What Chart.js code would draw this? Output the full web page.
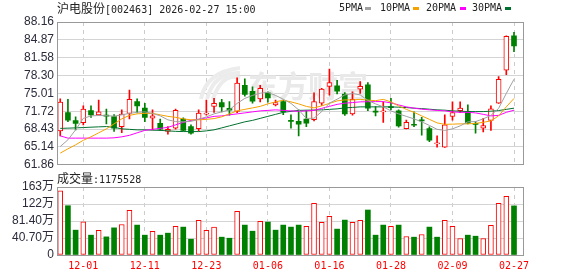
<!DOCTYPE html>
<html>
<head>
<meta charset="utf-8">
<title>沪电股份[002463] 日K</title>
<script src="https://cdn.jsdelivr.net/npm/chart.js@4.4.1/dist/chart.umd.min.js"></script>
<style>
  body { margin: 0; background: #fff; }
  #wrap { position: relative; width: 578px; height: 276px; overflow: hidden; }
  canvas { position: absolute; left: 0; }
  #priceCv { top: 0; }
  #volCv { top: 168px; }
  .txt { position: absolute; white-space: nowrap; line-height: 16px; color: #222; }
  .cjk { font-family: "Noto Sans CJK SC"; font-size: 12px; }
  .mono { font-family: "DejaVu Sans Mono"; font-size: 10px; }
  .mk { position: absolute; top: 7px; width: 6px; height: 3px; }
</style>
</head>
<body>
<div id="wrap">
  <canvas id="priceCv" width="578" height="175"></canvas>
  <canvas id="volCv" width="578" height="108"></canvas>

  <div class="txt" style="left:57px;top:0"><span class="cjk">沪电股份</span><span class="mono">[002463] 2026-02-27 15:00</span></div>

  <div class="txt mono" style="left:339px;top:0">5PMA</div>
  <div class="mk" style="left:365px;background:#a0a0a0"></div>
  <div class="txt mono" style="left:380px;top:0">10PMA</div>
  <div class="mk" style="left:413px;background:#f5a100"></div>
  <div class="txt mono" style="left:426px;top:0">20PMA</div>
  <div class="mk" style="left:460px;background:#ff00ff"></div>
  <div class="txt mono" style="left:472px;top:0">30PMA</div>
  <div class="mk" style="left:505px;background:#00702f"></div>

  <div class="txt" style="left:57px;top:170px"><span class="cjk">成交量</span><span class="mono">:1175528</span></div>
</div>

<script>
// trading days shown on the chart
const dates = [
  "11-26", "11-27", "11-28", "12-01", "12-02", "12-03", "12-04", "12-05", "12-08", "12-09",
  "12-10", "12-11", "12-12", "12-15", "12-16", "12-17", "12-18", "12-19", "12-22", "12-23",
  "12-24", "12-25", "12-26", "12-29", "12-30", "12-31", "01-05", "01-06", "01-07", "01-08",
  "01-09", "01-12", "01-13", "01-14", "01-15", "01-16", "01-19", "01-20", "01-21", "01-22",
  "01-23", "01-26", "01-27", "01-28", "01-29", "01-30", "02-02", "02-03", "02-04", "02-05",
  "02-06", "02-09", "02-10", "02-11", "02-12", "02-13", "02-24", "02-25", "02-26", "02-27"
];
const dateTickIdx = [3, 11, 19, 27, 35, 43, 51, 59];

const open = [
  68.1, 71.5, 70.0, 69.6, 71.85, 71.05, 71.0, 70.75, 68.9, 71.3,
  73.5, 72.3, 70.45, 69.5, 68.0, 68.6, 70.3, 68.9, 68.5, 71.2,
  72.6, 73.3, 72.25, 71.7, 76.5, 75.4, 74.0, 75.1, 72.9, 73.5,
  70.0, 69.85, 70.27, 70.15, 73.2, 76.3, 76.4, 74.9, 71.25, 75.8,
  76.6, 71.7, 71.6, 72.6, 71.8, 68.5, 69.3, 70.0, 68.55, 65.7,
  65.1, 70.75, 71.85, 71.7, 69.4, 68.6, 70.05, 73.2, 79.3, 85.6
];
const high = [
  74.0, 73.9, 70.7, 72.7, 72.7, 73.8, 72.1, 71.1, 72.0, 75.6,
  74.0, 73.2, 72.0, 70.3, 68.9, 72.1, 70.5, 69.2, 72.0, 73.8,
  74.1, 73.9, 73.5, 77.9, 77.7, 76.2, 76.5, 75.3, 73.8, 73.8,
  71.05, 72.0, 71.85, 75.1, 75.95, 79.5, 77.4, 75.15, 75.3, 77.2,
  77.0, 72.6, 73.45, 74.1, 72.0, 70.1, 71.6, 70.6, 68.85, 67.2,
  71.05, 73.45, 73.45, 72.9, 69.8, 70.4, 72.7, 78.1, 85.6, 86.25
];
const low = [
  67.2, 69.8, 68.3, 69.2, 70.6, 71.0, 69.4, 68.0, 67.8, 70.3,
  71.4, 69.8, 68.3, 68.2, 67.5, 68.4, 68.1, 67.5, 68.1, 71.0,
  71.5, 71.6, 71.0, 71.45, 74.5, 73.2, 73.45, 73.4, 72.7, 71.1,
  68.6, 67.2, 68.9, 69.95, 72.8, 74.7, 74.9, 70.95, 71.0, 75.0,
  71.85, 70.87, 69.65, 72.0, 68.8, 68.45, 68.9, 67.3, 66.1, 65.1,
  65.05, 70.1, 71.45, 69.4, 67.7, 67.9, 68.2, 73.15, 78.45, 82.7
];
const close = [
  73.4, 70.1, 69.5, 72.1, 71.05, 71.6, 70.8, 68.6, 71.2, 73.9,
  72.7, 70.6, 70.87, 68.4, 68.4, 71.9, 68.2, 67.7, 71.4, 71.35,
  73.2, 72.5, 71.9, 76.9, 74.8, 73.6, 75.95, 74.2, 73.3, 71.6,
  69.85, 69.35, 69.55, 73.5, 75.8, 77.0, 75.4, 71.25, 73.9, 76.3,
  72.3, 71.55, 71.7, 72.4, 69.0, 69.7, 69.15, 69.95, 66.4, 65.8,
  69.2, 71.5, 72.3, 69.55, 69.3, 69.1, 72.15, 77.6, 85.5, 83.75
];

// moving averages as printed on the chart
const ma5 = [
  65.22, 66.46, 68.30, 70.41, 70.87, 70.93, 70.91, 70.82, 71.06, 71.33,
  71.52, 71.61, 71.33, 70.87, 70.14, 69.82, 69.77, 69.86, 70.23, 70.69,
  71.24, 71.61, 71.98, 73.17, 74.09, 74.64, 75.05, 75.19, 74.64, 73.94,
  73.17, 71.98, 70.40, 70.45, 71.66, 73.21, 73.94, 74.73, 75.01, 74.73,
  73.72, 73.08, 72.53, 71.79, 71.24, 70.78, 70.32, 69.77, 69.12, 68.39,
  68.20, 68.48, 69.03, 69.77, 69.82, 70.32, 70.96, 72.25, 75.01, 77.62
];
const ma10 = [
  64.01, 64.80, 65.54, 66.37, 67.01, 67.75, 68.48, 69.40, 70.32, 70.96,
  71.24, 71.33, 71.33, 71.06, 70.78, 70.60, 70.32, 70.14, 70.14, 70.23,
  70.37, 70.69, 71.24, 71.79, 72.07, 72.34, 72.62, 73.08, 73.45, 73.76,
  73.45, 73.08, 72.62, 72.34, 72.71, 73.17, 73.63, 73.81, 73.81, 73.91,
  73.78, 73.67, 73.91, 73.45, 72.71, 72.07, 71.52, 70.87, 70.23, 69.58,
  69.31, 69.35, 69.40, 69.40, 69.49, 69.68, 69.95, 70.87, 72.53, 74.09
];
const ma20 = [
  67.19, 66.77, 66.77, 66.77, 66.77, 66.77, 66.77, 66.83, 67.01, 67.29,
  67.75, 68.20, 68.39, 68.57, 68.76, 69.22, 69.68, 70.04, 70.26, 70.50,
  70.78, 70.87, 71.06, 71.24, 71.42, 71.61, 71.79, 71.88, 71.98, 71.88,
  71.79, 71.70, 71.79, 71.88, 72.25, 72.62, 72.99, 73.21, 73.32, 73.45,
  73.48, 73.50, 73.50, 73.26, 72.89, 72.53, 72.29, 72.10, 71.98, 71.88,
  71.79, 71.61, 71.52, 71.52, 71.42, 71.15, 70.87, 70.96, 71.52, 71.92
];
const ma30 = [
  68.57, 68.61, 68.66, 68.72, 68.79, 68.85, 68.90, 68.76, 68.48, 68.39,
  68.30, 68.30, 68.24, 68.20, 68.11, 68.02, 67.98, 67.98, 67.98, 68.11,
  68.30, 68.66, 69.03, 69.40, 69.77, 70.04, 70.41, 70.78, 71.15, 71.52,
  71.70, 71.88, 71.92, 71.94, 71.98, 72.07, 72.16, 72.34, 72.43, 72.53,
  72.53, 72.53, 72.53, 72.53, 72.47, 72.40, 72.29, 72.21, 72.10, 71.98,
  71.92, 71.79, 71.73, 71.66, 71.66, 71.66, 71.73, 71.85, 72.07, 72.29
];

// volume in lots, and whether each volume bar is drawn red
const volume = [
  1535000, 1180000, 595000, 795000, 475000, 588000, 434000, 650000, 730000, 1070000,
  716000, 475000, 564000, 475000, 523000, 684000, 668000, 378000, 829000, 588000,
  668000, 427000, 402000, 1046000, 716000, 570000, 805000, 788000, 595000, 716000,
  668000, 716000, 684000, 1239000, 780000, 925000, 620000, 836000, 780000, 829000,
  1077000, 475000, 716000, 684000, 716000, 443000, 427000, 490000, 668000, 427000,
  829000, 684000, 395000, 475000, 450000, 395000, 708000, 1239000, 1407000, 1175528
];
const volUp = [
  1, 0, 0, 1, 0, 1, 0, 0, 1, 1, 0, 0, 1, 0, 0, 1, 0, 0, 1, 1,
  1, 0, 0, 1, 0, 0, 1, 0, 0, 0, 0, 0, 1, 1, 1, 1, 0, 0, 1, 1,
  0, 0, 0, 1, 0, 1, 0, 1, 0, 0, 1, 1, 1, 0, 0, 1, 1, 1, 1, 0
];

const priceTicks = [88.16, 84.87, 81.58, 78.30, 75.01, 71.72, 68.43, 65.14, 61.86];
const volTicks = [1628000, 1221000, 814000, 407000, 0];
const volTickLabels = ["163万", "122万", "81.40万", "40.70万", "0"];

const RED = "#ff0000";
const GREEN = "#008000";
const up = close.map((c, i) => c >= open[i]);

const frame = {
  id: "frame",
  afterDatasetsDraw(chart) {
    const a = chart.chartArea, ctx = chart.ctx;
    const l = Math.floor(a.left), t = Math.floor(a.top);
    ctx.save();
    ctx.strokeStyle = "#999";
    ctx.lineWidth = 1;
    ctx.strokeRect(l + 0.5, t + 0.5, Math.floor(a.right) - l, Math.floor(a.bottom) - t);
    ctx.restore();
  }
};

const watermark = {
  id: "watermark",
  beforeDatasetsDraw(chart) {
    const ctx = chart.ctx;
    ctx.save();
    ctx.strokeStyle = "#ececec";
    ctx.lineWidth = 4;
    for (let k = 0; k < 3; k++) {
      ctx.beginPath();
      ctx.moveTo(201 + k * 6, 99);
      ctx.quadraticCurveTo(206 + k * 8, 72, 240, 68 + k * 5);
      ctx.stroke();
    }
    ctx.fillStyle = "#e9e9e9";
    ctx.font = "bold 30px 'Noto Sans CJK SC'";
    ctx.textBaseline = "middle";
    ctx.fillText("东方财富", 248, 86);
    ctx.restore();
  }
};

function xAxis(showLabels) {
  return {
    type: "linear",
    min: -0.42,
    max: 60.17,
    offset: false,
    afterBuildTicks: (s) => { s.ticks = dateTickIdx.map((v) => ({ value: v })); },
    afterFit: (s) => { s.height = showLabels ? 21 : 0; },
    grid: { color: "#cccccc", drawTicks: false, offset: false },
    border: { display: false, dash: [4, 4] },
    ticks: {
      display: showLabels,
      autoSkip: false,
      maxRotation: 0,
      padding: 5,
      color: RED,
      font: { family: "DejaVu Sans Mono", size: 10 },
      callback: (v) => dates[v]
    }
  };
}

const tickFont = { family: "'Liberation Sans', 'Noto Sans CJK SC'", size: 12 };

new Chart(document.getElementById("priceCv"), {
  type: "bar",
  data: {
    datasets: [
      { type: "line", label: "5PMA", data: ma5.map((v, i) => ({ x: i, y: v })), borderColor: "#a0a0a0", borderWidth: 1, pointRadius: 0, order: 0 },
      { type: "line", label: "10PMA", data: ma10.map((v, i) => ({ x: i, y: v })), borderColor: "#f5a100", borderWidth: 1, pointRadius: 0, order: 0 },
      { type: "line", label: "20PMA", data: ma20.map((v, i) => ({ x: i, y: v })), borderColor: "#ff00ff", borderWidth: 1, pointRadius: 0, order: 0 },
      { type: "line", label: "30PMA", data: ma30.map((v, i) => ({ x: i, y: v })), borderColor: "#00702f", borderWidth: 1, pointRadius: 0, order: 0 },
      {
        label: "body",
        data: open.map((o, i) => ({ x: i, y: [o, close[i]] })),
        backgroundColor: up.map((u) => (u ? "#ffffff" : GREEN)),
        borderColor: up.map((u) => (u ? RED : GREEN)),
        borderWidth: up.map((u) => (u ? 1 : 0)),
        borderSkipped: false,
        barThickness: 5,
        minBarLength: 1,
        grouped: false,
        order: 1
      },
      {
        label: "wick",
        data: low.map((l, i) => ({ x: i, y: [l, high[i]] })),
        backgroundColor: up.map((u) => (u ? RED : GREEN)),
        barThickness: 1,
        grouped: false,
        order: 2
      }
    ]
  },
  options: {
    responsive: false,
    animation: false,
    events: [],
    layout: { padding: { left: 0, top: 22, right: 55, bottom: 10 } },
    plugins: { legend: { display: false }, tooltip: { enabled: false } },
    scales: {
      x: xAxis(false),
      y: {
        min: 61.86,
        max: 88.16,
        afterBuildTicks: (s) => { s.ticks = priceTicks.map((v) => ({ value: v })); },
        afterFit: (s) => { s.width = 57; },
        grid: { color: "#d4d4d4", drawTicks: false },
        border: { display: false },
        ticks: { padding: 3, color: "#2b2b3b", font: tickFont, autoSkip: false, callback: (v) => v.toFixed(2) }
      }
    }
  },
  plugins: [watermark, frame]
});

new Chart(document.getElementById("volCv"), {
  type: "bar",
  data: {
    datasets: [
      {
        label: "成交量",
        data: volume.map((v, i) => ({ x: i, y: v })),
        backgroundColor: volUp.map((u) => (u ? "#ffffff" : GREEN)),
        borderColor: volUp.map((u) => (u ? RED : GREEN)),
        borderWidth: volUp.map((u) => (u ? 1 : 0)),
        borderSkipped: false,
        barThickness: 5,
        grouped: false
      }
    ]
  },
  options: {
    responsive: false,
    animation: false,
    events: [],
    layout: { padding: { left: 0, top: 19, right: 55, bottom: 0 } },
    plugins: { legend: { display: false }, tooltip: { enabled: false } },
    scales: {
      x: xAxis(true),
      y: {
        min: 0,
        max: 1628000,
        afterBuildTicks: (s) => { s.ticks = volTicks.map((v) => ({ value: v })); },
        afterFit: (s) => { s.width = 57; },
        grid: { color: "#d4d4d4", drawTicks: false },
        border: { display: false },
        ticks: { padding: 3, color: "#2b2b3b", font: tickFont, autoSkip: false, callback: (v, i) => volTickLabels[i] }
      }
    }
  },
  plugins: [frame]
});
</script>
</body>
</html>
